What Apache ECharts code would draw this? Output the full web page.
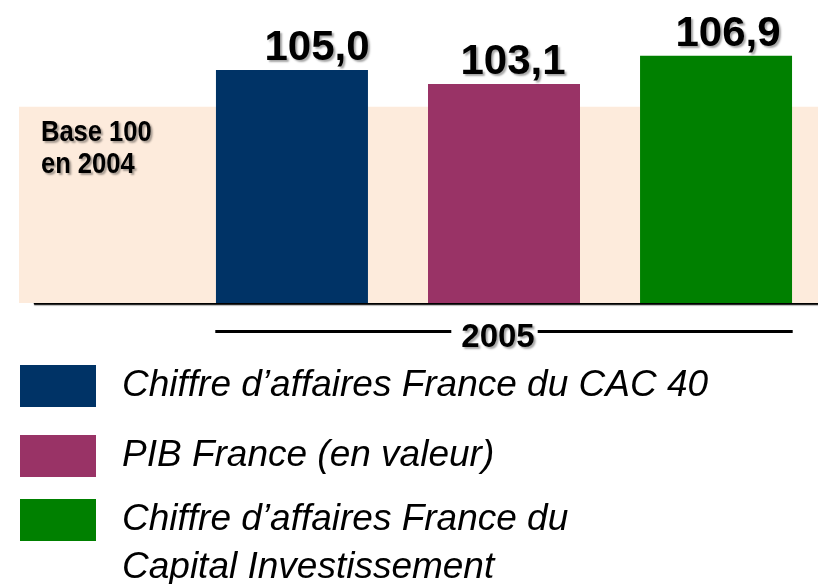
<!DOCTYPE html>
<html>
<head>
<meta charset="utf-8">
<script src="https://cdn.jsdelivr.net/npm/echarts@6/dist/echarts.min.js"></script>
<style>
html,body{margin:0;padding:0;background:#fff;}
#chart{width:818px;height:584px;}
</style>
</head>
<body>
<div id="chart"></div>
<script>
// ---- data ----
const categories = ['2005'];
const seriesNames = [
  'Chiffre d\u2019affaires France du CAC 40',
  'PIB France (en valeur)',
  'Chiffre d\u2019affaires France du\nCapital Investissement'
];
const values = [105.0, 103.1, 106.9];
const baseValue = 100;
const baseLabel = ['Base 100', 'en 2004'];

// ---- styling ----
const colors = ['#003366', '#993366', '#008000'];
const bandColor = '#FDEBDC';
const labelOffsets = [[25, 0], [9, 0], [12, 0]];
const yMin = 73.4, yMax = 110;

const shadow = { textShadowColor: 'rgba(0,0,0,0.35)', textShadowOffsetX: 2, textShadowOffsetY: 2, textShadowBlur: 2 };

const chart = echarts.init(document.getElementById('chart'), null, { renderer: 'canvas' });

const gridBox = { top: 33, height: 270 };
const hiddenY = (gi) => ({ type: 'value', gridIndex: gi, min: yMin, max: yMax, show: false, splitLine: { show: false } });

const barSeries = values.map((v, i) => ({
  name: seriesNames[i],
  type: 'bar',
  xAxisIndex: 1, yAxisIndex: 1,
  data: [v],
  barWidth: 152,
  barGap: '39.5%',
  itemStyle: { color: colors[i] },
  z: 5,
  label: {
    show: true,
    position: 'top',
    distance: 0,
    offset: labelOffsets[i],
    formatter: (p) => p.value.toFixed(1).replace('.', ','),
    fontFamily: 'Liberation Sans',
    fontWeight: 'bold',
    fontSize: 42,
    color: '#000',
    ...shadow
  }
}));

const legendText = {
  fontFamily: 'Liberation Sans',
  fontStyle: 'italic',
  fontSize: 37,
  lineHeight: 42,
  color: '#000',
  padding: [0, 0, 0, 21]
};

const option = {
  animation: false,
  grid: [
    { left: 19, right: 0, ...gridBox },   // band
    { left: 190, right: 0, ...gridBox },  // bars
    { left: 35, right: 0, ...gridBox }    // baseline
  ],
  xAxis: [
    { type: 'category', gridIndex: 0, data: categories, show: false },
    {
      type: 'category', gridIndex: 1, data: categories,
      axisLine: { show: false }, axisTick: { show: false },
      axisLabel: {
        margin: 6,
        formatter: (v) => '{l|}{t|' + v + '}{r|}',
        rich: {
          l: { width: 236, height: 3, backgroundColor: '#000', verticalAlign: 'middle' },
          t: { fontFamily: 'Liberation Sans', fontSize: 33, fontWeight: 'bold', color: '#000', padding: [12, 3, 0, 10], verticalAlign: 'middle', ...shadow },
          r: { width: 255, height: 3, backgroundColor: '#000', verticalAlign: 'middle' }
        }
      }
    },
    {
      type: 'category', gridIndex: 2, data: categories,
      axisLine: { show: true, lineStyle: { color: '#000', width: 2.5, shadowColor: 'rgba(0,0,0,0.35)', shadowOffsetY: 1, shadowBlur: 1 } },
      axisTick: { show: false }, axisLabel: { show: false }
    }
  ],
  yAxis: [hiddenY(0), hiddenY(1), hiddenY(2)],
  legend: [
    {
      orient: 'vertical', left: 20, top: 365, padding: 0,
      itemWidth: 76, itemHeight: 42, itemGap: 28,
      icon: 'rect', selectedMode: false,
      data: [seriesNames[0], seriesNames[1]],
      textStyle: legendText
    },
    {
      orient: 'vertical', left: 20, top: 495, padding: 0,
      itemWidth: 76, itemHeight: 42,
      icon: 'rect', selectedMode: false,
      data: [seriesNames[2]],
      formatter: (n) => n.split('\n')[0],
      textStyle: { ...legendText, padding: [8, 0, 0, 21] }
    }
  ],
  graphic: [
    {
      type: 'text', left: 122, top: 547, z: 10,
      style: {
        text: seriesNames[2].split('\n')[1],
        font: 'italic 37px "Liberation Sans"',
        lineHeight: 42,
        fill: '#000'
      }
    },
    {
      type: 'text', left: 41, top: 117, scaleX: 0.88, z: 10,
      style: {
        text: baseLabel.join('\n'),
        font: 'bold 29px "Liberation Sans"',
        lineHeight: 32,
        fill: '#000',
        ...shadow
      }
    }
  ],
  series: [
    {
      type: 'bar', xAxisIndex: 0, yAxisIndex: 0, data: ['-'], silent: true, z: 1,
      markArea: {
        silent: true,
        itemStyle: { color: bandColor },
        data: [[{ yAxis: yMin }, { yAxis: baseValue }]]
      }
    },
    ...barSeries
  ]
};
chart.setOption(option);
</script>
</body>
</html>
